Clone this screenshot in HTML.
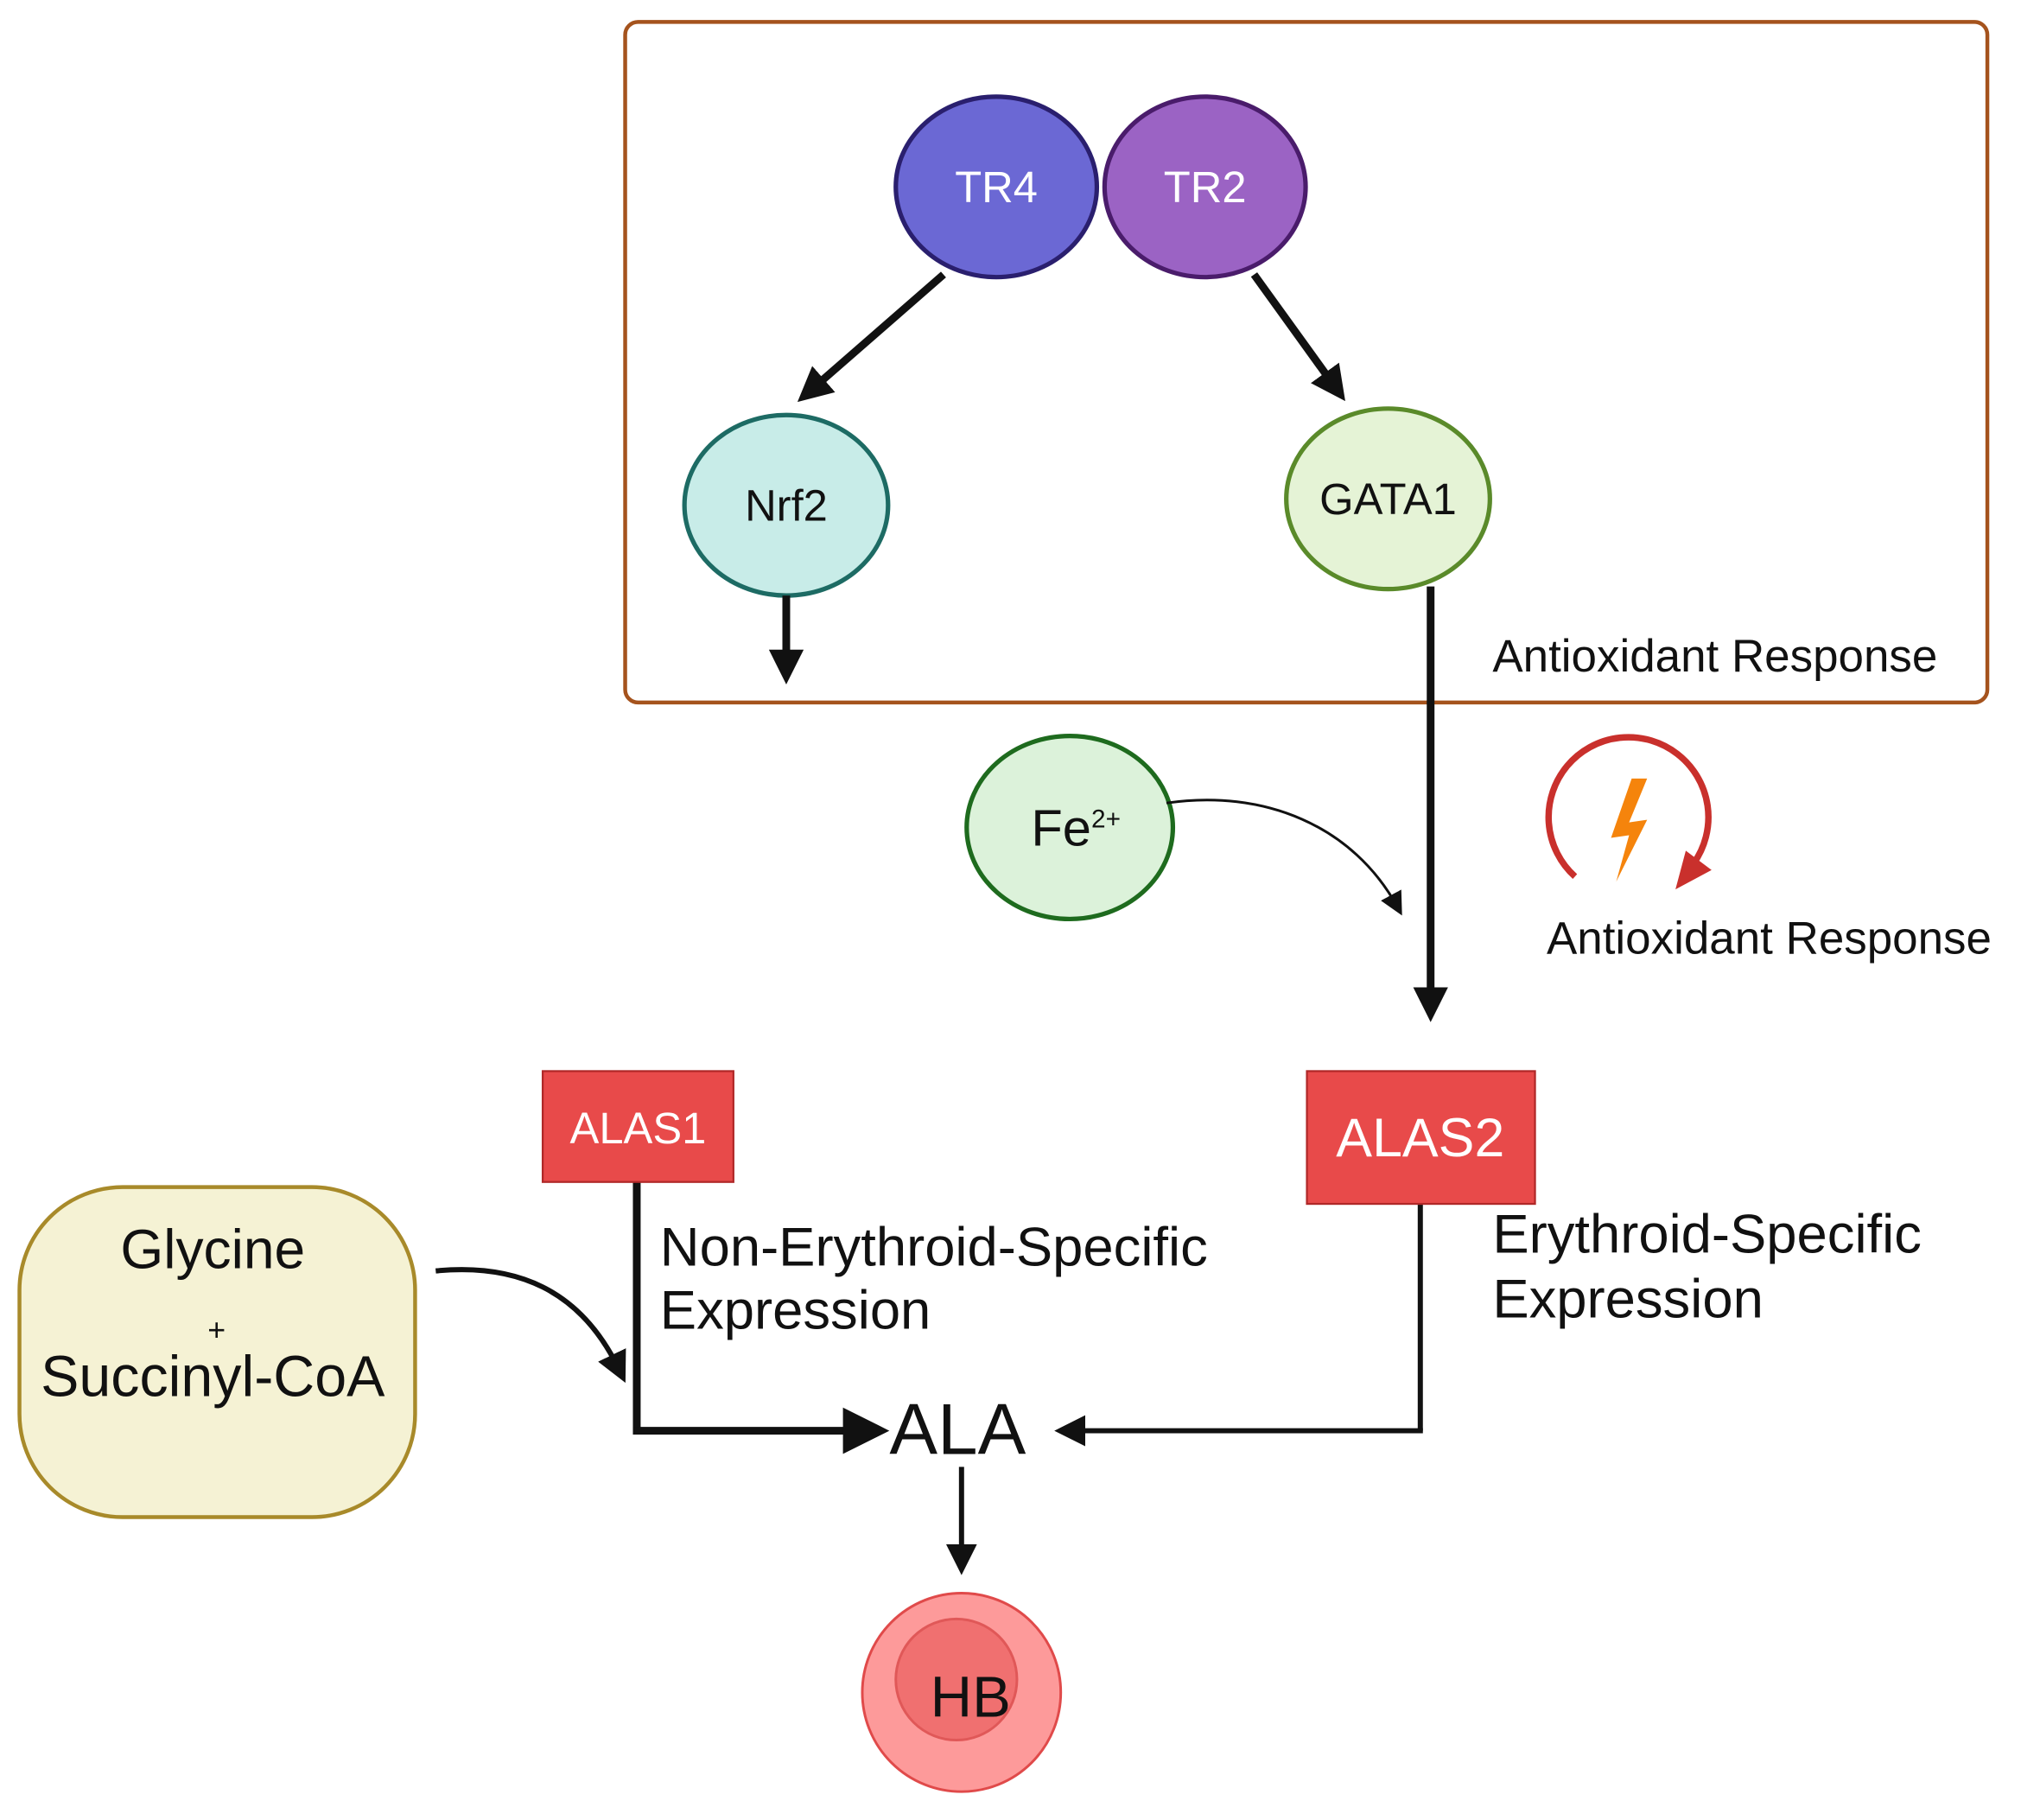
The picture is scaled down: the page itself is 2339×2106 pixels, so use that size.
<!DOCTYPE html>
<html><head><meta charset="utf-8"><style>
html,body{margin:0;padding:0;background:#fff}
svg{display:block}
text{font-family:"Liberation Sans",sans-serif}
</style></head><body>
<svg width="2339" height="2106" viewBox="0 0 1568 1412" xmlns="http://www.w3.org/2000/svg">
<defs>
<marker id="ah" markerWidth="4.5" markerHeight="4.5" refX="2" refY="2.25" orient="auto" markerUnits="strokeWidth">
<path d="M0,0 L4.5,2.25 L0,4.5 z" fill="#111"/></marker>
<marker id="ah2" markerWidth="9" markerHeight="9" refX="6" refY="4.5" orient="auto" markerUnits="strokeWidth">
<path d="M0,0 L9,4.5 L0,9 z" fill="#111"/></marker>
<marker id="ah3" markerWidth="6" markerHeight="6" refX="3" refY="3" orient="auto" markerUnits="strokeWidth">
<path d="M0,0 L6,3 L0,6 z" fill="#111"/></marker>
</defs>
<rect x="485" y="17" width="1057" height="528" rx="10" fill="none" stroke="#a5531d" stroke-width="3"/>
<line x1="732" y1="213" x2="630" y2="302" stroke="#111" stroke-width="6" marker-end="url(#ah)"/>
<line x1="973" y1="213" x2="1035" y2="299" stroke="#111" stroke-width="6" marker-end="url(#ah)"/>
<ellipse cx="773" cy="145" rx="78" ry="70" fill="#6b68d4" stroke="#2a1f6e" stroke-width="3.5"/>
<ellipse cx="935" cy="145" rx="78" ry="70" fill="#9b63c4" stroke="#4a1c6b" stroke-width="3.5"/>
<text x="773" y="157" font-size="34" fill="#fff" text-anchor="middle">TR4</text>
<text x="935" y="157" font-size="34" fill="#fff" text-anchor="middle">TR2</text>
<ellipse cx="610" cy="392" rx="79" ry="70" fill="#c8ece8" stroke="#1d6b64" stroke-width="3.5"/>
<text x="610" y="404" font-size="34" fill="#111" text-anchor="middle">Nrf2</text>
<ellipse cx="1077" cy="387" rx="79" ry="70" fill="#e5f3d6" stroke="#5a8a2a" stroke-width="3.5"/>
<text x="1077" y="399" font-size="34" fill="#111" text-anchor="middle">GATA1</text>
<line x1="610" y1="462" x2="610" y2="516" stroke="#111" stroke-width="6" marker-end="url(#ah)"/>
<text x="1158" y="521" font-size="35.5" fill="#111">Antioxidant Response</text>
<line x1="1110" y1="455" x2="1110" y2="778" stroke="#111" stroke-width="6" marker-end="url(#ah)"/>
<ellipse cx="830" cy="642" rx="80" ry="71" fill="#dcf2da" stroke="#1e6b1e" stroke-width="3.5"/>
<text x="800" y="656" font-size="40" fill="#111">Fe<tspan font-size="20" dy="-14">2+</tspan></text>
<path d="M905,623 C980,612 1050,640 1085,705" fill="none" stroke="#111" stroke-width="2" marker-end="url(#ah2)"/>
<path d="M1222,680 A62,62 0 1 1 1314,670" fill="none" stroke="#c9302c" stroke-width="5"/>
<path d="M1300,690 L1328,675 L1308,660 z" fill="#c9302c"/>
<path d="M1266,604 L1250,650 L1264,648 L1254,684 L1278,636 L1264,638 L1278,604 z" fill="#f5840c"/>
<text x="1200" y="740" font-size="35.5" fill="#111">Antioxidant Response</text>
<line x1="494" y1="917" x2="494" y2="1110" stroke="#111" stroke-width="6"/>
<line x1="491" y1="1110" x2="672" y2="1110" stroke="#111" stroke-width="6" marker-end="url(#ah3)"/>
<line x1="1102" y1="934" x2="1102" y2="1110" stroke="#111" stroke-width="4"/>
<line x1="1104" y1="1110" x2="830" y2="1110" stroke="#111" stroke-width="4" marker-end="url(#ah3)"/>
<rect x="421" y="831" width="148" height="86" fill="#e84a4a" stroke="#b02828" stroke-width="1.5"/>
<text x="495" y="887" font-size="34" fill="#fff" text-anchor="middle">ALAS1</text>
<rect x="1014" y="831" width="177" height="103" fill="#e84a4a" stroke="#b02828" stroke-width="1.5"/>
<text x="1102" y="897" font-size="42" fill="#fff" text-anchor="middle">ALAS2</text>
<text x="512" y="982" font-size="42.5" fill="#111">Non-Erythroid-Specific</text>
<text x="512" y="1031" font-size="42.5" fill="#111">Expression</text>
<text x="1158" y="972" font-size="42.5" fill="#111">Erythroid-Specific</text>
<text x="1158" y="1022" font-size="42.5" fill="#111">Expression</text>
<rect x="15" y="921" width="307" height="256" rx="80" fill="#f5f2d4" stroke="#a88a2a" stroke-width="3"/>
<text x="165" y="984" font-size="43" fill="#111" text-anchor="middle">Glycine</text>
<text x="168" y="1040" font-size="24" fill="#111" text-anchor="middle">+</text>
<text x="165" y="1083" font-size="44.5" fill="#111" text-anchor="middle">Succinyl-CoA</text>
<path d="M338,986 C400,980 450,1000 480,1062" fill="none" stroke="#111" stroke-width="4" marker-end="url(#ah3)"/>
<text x="743" y="1128" font-size="56" fill="#111" text-anchor="middle">ALA</text>
<line x1="746" y1="1138" x2="746" y2="1210" stroke="#111" stroke-width="4" marker-end="url(#ah3)"/>
<circle cx="746" cy="1313" r="77" fill="#fd9a9a" stroke="#e04a4a" stroke-width="2"/>
<circle cx="742" cy="1303" r="47" fill="#f07070" stroke="#e05858" stroke-width="2"/>
<text x="753" y="1332" font-size="45" fill="#111" text-anchor="middle">HB</text>
</svg>
</body></html>
